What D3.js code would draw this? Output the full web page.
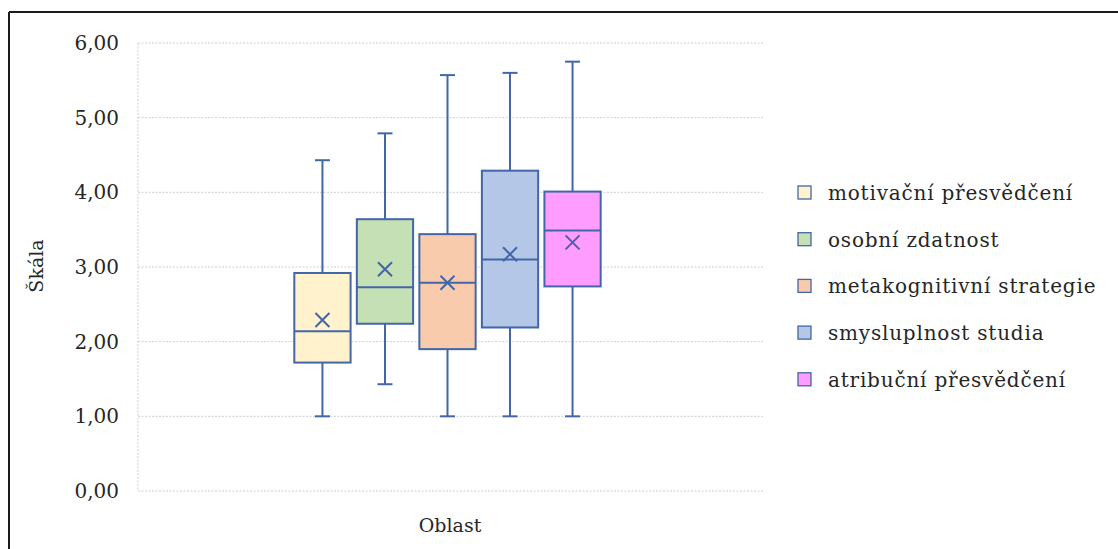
<!DOCTYPE html>
<html>
<head>
<meta charset="utf-8">
<script src="https://cdn.jsdelivr.net/npm/d3@7"></script>
<style>
  html, body { margin: 0; padding: 0; background: #fff; }
  svg { display: block; }
  text { font-family: "DejaVu Serif", serif; fill: #262626; }
</style>
</head>
<body>
<svg id="chart" width="1118" height="549"></svg>
<script>
// Single category on the x axis, one box per area
const categories = ["Oblast"];
const seriesNames = [
  "motivační přesvědčení",
  "osobní zdatnost",
  "metakognitivní strategie",
  "smysluplnost studia",
  "atribuční přesvědčení"
];
const fillColors = ["#FFF2CC", "#C5E0B4", "#F8CBAD", "#B4C7E7", "#FF9CFF"];
// Five-number summaries plus mean, per series
const whiskerLow  = [1.00, 1.43, 1.00, 1.00, 1.00];
const quartile1   = [1.72, 2.24, 1.90, 2.19, 2.74];
const medians     = [2.14, 2.73, 2.79, 3.10, 3.49];
const quartile3   = [2.92, 3.64, 3.44, 4.29, 4.01];
const whiskerHigh = [4.43, 4.79, 5.57, 5.60, 5.75];
const means       = [2.29, 2.97, 2.79, 3.17, 3.33];
const yTicks = [0, 1, 2, 3, 4, 5, 6];
const yTitle = "Škála";

const svg = d3.select("#chart");
const stroke = "#4266A8";

// outer frame
svg.append("line").attr("x1", 9).attr("y1", 12).attr("x2", 1118).attr("y2", 12)
  .attr("stroke", "#1a1a1a").attr("stroke-width", 2);
svg.append("line").attr("x1", 9).attr("y1", 12).attr("x2", 9).attr("y2", 549)
  .attr("stroke", "#1a1a1a").attr("stroke-width", 2);

const plot = { left: 138, right: 763, top: 43, bottom: 491 };

const y = d3.scaleLinear().domain([0, 6]).range([plot.bottom, plot.top]);
const x = d3.scaleBand().domain(categories).range([plot.left, plot.right - 6])
  .paddingInner(0).paddingOuter(0.49);
const xs = d3.scaleBand().domain(seriesNames).range([0, x.bandwidth()])
  .paddingInner(0.1).paddingOuter(0.05);

// gridlines
const grid = svg.append("g");
grid.selectAll("line.h").data(yTicks).join("line")
  .attr("class", "h")
  .attr("x1", plot.left).attr("x2", plot.right)
  .attr("y1", d => y(d)).attr("y2", d => y(d))
  .attr("stroke", "#cfcfcf").attr("stroke-width", 1).attr("stroke-dasharray", "2,1.5");
grid.append("line")
  .attr("x1", plot.left).attr("x2", plot.left)
  .attr("y1", y(6)).attr("y2", y(0))
  .attr("stroke", "#cfcfcf").attr("stroke-width", 1).attr("stroke-dasharray", "2,1.5");

// y axis labels
const yAxis = d3.axisLeft(y).tickValues(yTicks)
  .tickFormat(d => d3.format(".2f")(d).replace(".", ","))
  .tickSize(0).tickPadding(19);
const ga = svg.append("g").attr("transform", `translate(${plot.left},0)`).call(yAxis);
ga.select(".domain").remove();
ga.selectAll("text").attr("font-size", 20).attr("fill", "#262626")
  .attr("font-family", "DejaVu Serif, serif");

// axis titles
svg.append("text").text(yTitle)
  .attr("transform", "translate(43,266) rotate(-90)")
  .attr("text-anchor", "middle").attr("font-size", 19);
svg.append("text").text(categories[0])
  .attr("x", 450).attr("y", 532)
  .attr("text-anchor", "middle").attr("font-size", 19);

// boxes
const data = seriesNames.map((name, i) => ({
  name, fill: fillColors[i],
  lo: whiskerLow[i], q1: quartile1[i], med: medians[i],
  q3: quartile3[i], hi: whiskerHigh[i], mean: means[i]
}));

const g = svg.append("g").attr("transform", `translate(${x(categories[0])},0)`);
const bw = xs.bandwidth();
const capHalf = 7.5;
const box = g.selectAll("g.box").data(data).join("g")
  .attr("class", "box")
  .attr("transform", d => `translate(${xs(d.name)},0)`);

box.append("line").attr("x1", bw / 2).attr("x2", bw / 2)
  .attr("y1", d => y(d.hi)).attr("y2", d => y(d.q3))
  .attr("stroke", stroke).attr("stroke-width", 2);
box.append("line").attr("x1", bw / 2).attr("x2", bw / 2)
  .attr("y1", d => y(d.q1)).attr("y2", d => y(d.lo))
  .attr("stroke", stroke).attr("stroke-width", 2);
box.append("line").attr("x1", bw / 2 - capHalf).attr("x2", bw / 2 + capHalf)
  .attr("y1", d => y(d.hi)).attr("y2", d => y(d.hi))
  .attr("stroke", stroke).attr("stroke-width", 2);
box.append("line").attr("x1", bw / 2 - capHalf).attr("x2", bw / 2 + capHalf)
  .attr("y1", d => y(d.lo)).attr("y2", d => y(d.lo))
  .attr("stroke", stroke).attr("stroke-width", 2);
box.append("rect").attr("x", 0).attr("width", bw)
  .attr("y", d => y(d.q3)).attr("height", d => y(d.q1) - y(d.q3))
  .attr("fill", d => d.fill).attr("stroke", stroke).attr("stroke-width", 2);
box.append("line").attr("x1", 0).attr("x2", bw)
  .attr("y1", d => y(d.med)).attr("y2", d => y(d.med))
  .attr("stroke", stroke).attr("stroke-width", 2);
// mean marker
const mk = 7;
box.append("path")
  .attr("d", d => {
    const cx = bw / 2, cy = y(d.mean);
    return `M${cx - mk},${cy - mk}L${cx + mk},${cy + mk}M${cx - mk},${cy + mk}L${cx + mk},${cy - mk}`;
  })
  .attr("stroke", stroke).attr("stroke-width", 2).attr("fill", "none");

// legend
const legend = svg.append("g").attr("transform", "translate(798,193)");
const item = legend.selectAll("g").data(data).join("g")
  .attr("transform", (d, i) => `translate(0,${i * 46.7})`);
item.append("rect").attr("x", 0).attr("y", -7).attr("width", 13).attr("height", 13)
  .attr("fill", d => d.fill).attr("stroke", stroke).attr("stroke-width", 1.3);
item.append("text").text(d => d.name)
  .attr("x", 30).attr("y", 0).attr("dy", "0.35em").attr("font-size", 20)
  .attr("letter-spacing", "0.8px");
</script>
</body>
</html>
